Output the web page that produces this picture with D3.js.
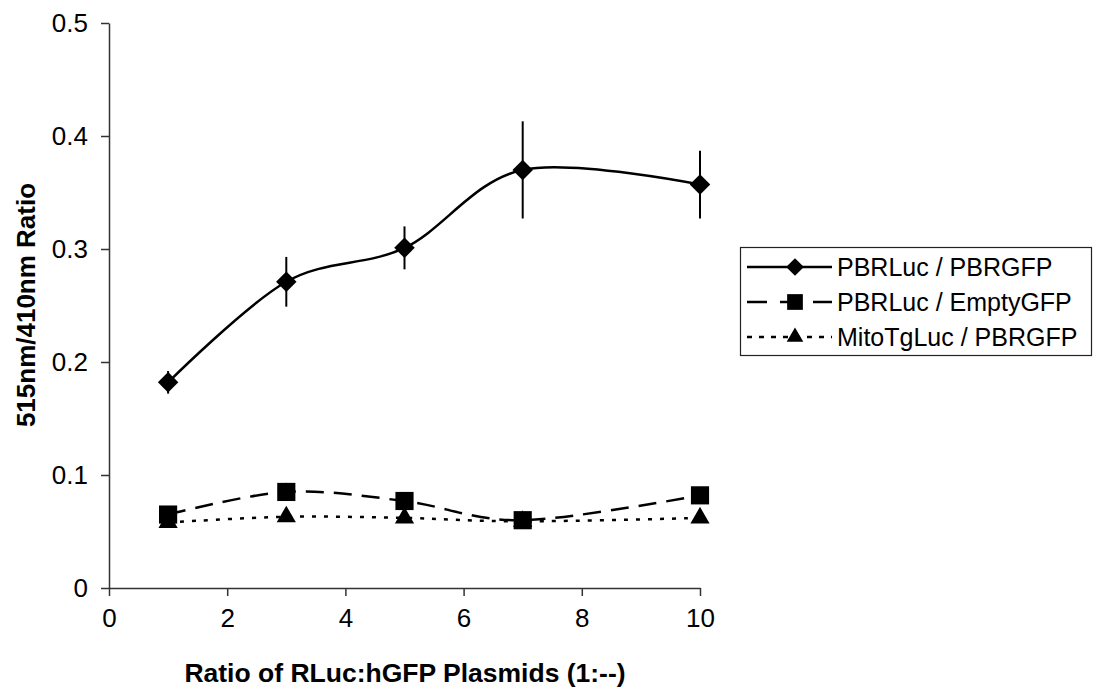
<!DOCTYPE html>
<html lang="en">
<head>
<meta charset="utf-8">
<title>515nm/410nm Ratio vs RLuc:hGFP plasmid ratio</title>
<script src="https://cdn.jsdelivr.net/npm/d3@7"></script>
<style>
  body { margin: 0; background: #fff; }
  svg { display: block; font-family: "Liberation Sans", Arial, sans-serif; }
</style>
</head>
<body>
<svg width="1102" height="691"></svg>
<script>
// data
var ratios = [1, 3, 5, 7, 10];
var seriesNames = ["PBRLuc / PBRGFP", "PBRLuc / EmptyGFP", "MitoTgLuc / PBRGFP"];
var pbrGfp = [0.182, 0.271, 0.301, 0.370, 0.357];
var pbrGfpErr = [0.010, 0.022, 0.019, 0.043, 0.030];
var emptyGfp = [0.065, 0.085, 0.077, 0.060, 0.082];
var emptyGfpErr = [0.003, 0.008, 0.004, 0.003, 0.003];
var mitoGfp = [0.058, 0.063, 0.062, 0.059, 0.062];
var mitoGfpErr = [0.002, 0.003, 0.003, 0.002, 0.002];
var xTicks = [0, 2, 4, 6, 8, 10];
var yTicks = [0, 0.1, 0.2, 0.3, 0.4, 0.5];

var svg = d3.select("svg");

var x = d3.scaleLinear().domain([0, 10]).range([109, 700]);
var y = d3.scaleLinear().domain([0, 0.5]).range([588, 23]);

// axes
var xAxis = svg.append("g")
    .attr("transform", "translate(0," + y(0) + ")")
    .call(d3.axisBottom(x).tickValues(xTicks).tickFormat(d3.format("d")).tickSize(8).tickSizeOuter(0));
xAxis.selectAll(".tick text").attr("y", 21).attr("dy", "0.71em");

var yAxis = svg.append("g")
    .attr("transform", "translate(" + x(0) + ",0)")
    .call(d3.axisLeft(y).tickValues(yTicks).tickFormat(function(d){ return d === 0 ? "0" : d3.format(".1f")(d); }).tickSize(8).tickSizeOuter(0));
yAxis.selectAll(".tick text").attr("x", -21);

svg.selectAll(".tick text")
    .style("font-size", "26px")
    .style("font-family", "'Liberation Sans', Arial, sans-serif")
    .attr("fill", "#000");
svg.selectAll(".domain, .tick line").attr("stroke", "#333").attr("stroke-width", 1.5);

// axis titles
svg.append("text")
    .attr("x", 405).attr("y", 682)
    .attr("text-anchor", "middle")
    .style("font-size", "26.5px").style("font-weight", "bold")
    .text("Ratio of RLuc:hGFP Plasmids (1:--)");

svg.append("text")
    .attr("transform", "translate(35,305) rotate(-90)")
    .attr("text-anchor", "middle")
    .style("font-size", "26px").style("font-weight", "bold")
    .text("515nm/410nm Ratio");

// diamond = square turned 45 degrees, like the reference marker
var series = [
    { name: seriesNames[0], vals: pbrGfp, err: pbrGfpErr, dash: null, legDash: null, sym: d3.symbolSquare, rot: 45, size: 210 },
    { name: seriesNames[1], vals: emptyGfp, err: emptyGfpErr, dash: "18,10", legDash: "20,13", sym: d3.symbolSquare, rot: 0, size: 330 },
    { name: seriesNames[2], vals: mitoGfp, err: mitoGfpErr, dash: "4,8", legDash: "5,7", sym: d3.symbolTriangle, rot: 0, size: 160 }
];

var line = d3.line()
    .x(function(d){ return x(d[0]); })
    .y(function(d){ return y(d[1]); })
    .curve(d3.curveCatmullRom.alpha(0));

series.forEach(function(s) {
    var pts = ratios.map(function(r, i){ return [r, s.vals[i], s.err[i]]; });
    var g = svg.append("g");

    g.selectAll("line.err")
        .data(pts)
        .enter().append("line")
        .attr("class", "err")
        .attr("x1", function(d){ return x(d[0]); })
        .attr("x2", function(d){ return x(d[0]); })
        .attr("y1", function(d){ return y(d[1] - d[2]); })
        .attr("y2", function(d){ return y(d[1] + d[2]); })
        .attr("stroke", "#000").attr("stroke-width", 2);

    g.append("path")
        .datum(pts)
        .attr("d", line)
        .attr("fill", "none")
        .attr("stroke", "#000")
        .attr("stroke-width", 2.5)
        .attr("stroke-dasharray", s.dash);

    g.selectAll("path.mk")
        .data(pts)
        .enter().append("path")
        .attr("class", "mk")
        .attr("d", d3.symbol().type(s.sym).size(s.size))
        .attr("transform", function(d){ return "translate(" + x(d[0]) + "," + y(d[1]) + ") rotate(" + s.rot + ")"; })
        .attr("fill", "#000");
});

// legend
var legend = svg.append("g");
legend.append("rect")
    .attr("x", 740.5).attr("y", 247.5)
    .attr("width", 351).attr("height", 108)
    .attr("fill", "#fff").attr("stroke", "#222").attr("stroke-width", 1.2);

series.forEach(function(s, i) {
    var ly = 267 + i * 35;
    legend.append("line")
        .attr("x1", 747).attr("x2", 832)
        .attr("y1", ly).attr("y2", ly)
        .attr("stroke", "#000").attr("stroke-width", 2.5)
        .attr("stroke-dasharray", s.legDash);
    legend.append("path")
        .attr("d", d3.symbol().type(s.sym).size(s.size * 0.75))
        .attr("transform", "translate(795," + ly + ") rotate(" + s.rot + ")")
        .attr("fill", "#000");
    legend.append("text")
        .attr("x", 837).attr("y", ly)
        .attr("dy", "0.36em")
        .style("font-size", "25px")
        .text(s.name);
});
</script>
</body>
</html>
